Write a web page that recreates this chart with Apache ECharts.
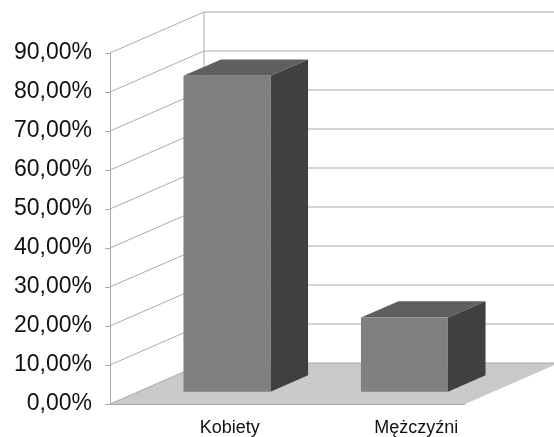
<!DOCTYPE html>
<html>
<head>
<meta charset="utf-8">
<script src="https://cdn.jsdelivr.net/npm/echarts@6/dist/echarts.min.js"></script>
<style>
  html, body { margin: 0; padding: 0; background: #fff; }
  #chart { width: 554px; height: 437px; }
</style>
</head>
<body>
<div id="chart"></div>
<script>
// data
const categories = ['Kobiety', 'Mężczyźni']
const shares = [81, 19]
const yTicks = [0, 10, 20, 30, 40, 50, 60, 70, 80, 90]

// fake 3d depth, pixels
const DX = 94
const DY = 41
const Z0 = 0.3
const Z1 = 0.7

function shift(x, y, z) {
  return [x + z * DX, y - z * DY]
}

function renderWalls(params, api) {
  const cs = params.coordSys
  const v = api.value(1)
  const y = api.coord([0, v])[1]
  const left = cs.x
  const right = cs.x + cs.width
  const children = []
  if (v === 0) {
    children.push({
      type: 'polygon',
      shape: { points: [[left, y], [right, y], shift(right, y, 1), shift(left, y, 1)] },
      style: { fill: '#c9c9c9' }
    })
    const yTop = api.coord([0, yTicks[yTicks.length - 1]])[1]
    children.push({
      type: 'line',
      shape: { x1: left + DX, y1: yTop - DY, x2: left + DX, y2: y - DY },
      style: { stroke: '#aaaaaa', lineWidth: 1 }
    })
  }
  children.push({
    type: 'polyline',
    shape: { points: [[left, y], shift(left, y, 1), [right + DX + 10, y - DY]] },
    style: { stroke: '#aaaaaa', lineWidth: 1, fill: null }
  })
  return { type: 'group', children: children }
}

function renderBar(params, api) {
  const idx = api.value(0)
  const base = api.coord([idx, 0])
  const top = api.coord([idx, api.value(1)])
  const bw = api.size([1, 0])[0] * 0.49
  const L = base[0] - bw / 2
  const R = base[0] + bw / 2
  const B = base[1]
  const T = top[1]
  return {
    type: 'group',
    children: [
      {
        type: 'polygon',
        shape: { points: [shift(R, B, Z0), shift(R, B, Z1), shift(R, T, Z1), shift(R, T, Z0)] },
        style: { fill: '#404040' }
      },
      {
        type: 'polygon',
        shape: { points: [shift(L, T, Z0), shift(R, T, Z0), shift(R, T, Z1), shift(L, T, Z1)] },
        style: { fill: '#5f5f5f' }
      },
      {
        type: 'polygon',
        shape: { points: [shift(L, B, Z0), shift(R, B, Z0), shift(R, T, Z0), shift(L, T, Z0)] },
        style: { fill: '#808080' }
      }
    ]
  }
}

function initChart() {
  const chart = echarts.init(document.getElementById('chart'))
  setOptions(chart)
}

function setOptions(chart) {
  chart.setOption({
    animation: false,
    grid: {
      left: 110,
      right: 89,
      top: 53,
      bottom: 33
    },
    xAxis: {
      type: 'category',
      data: [
        { value: categories[0], textStyle: { padding: [0, 0, 0, 62] } },
        { value: categories[1], textStyle: { padding: [0, 0, 0, 80] } }
      ],
      axisLine: { lineStyle: { color: '#aaaaaa' } },
      axisTick: { length: 5, lineStyle: { color: '#aaaaaa' } },
      axisLabel: {
        margin: 15,
        color: '#111',
        fontSize: 18,
        fontFamily: 'Liberation Sans'
      },
      splitLine: { show: false }
    },
    yAxis: {
      type: 'value',
      min: 0,
      max: 90,
      interval: 10,
      axisLine: { show: true, lineStyle: { color: '#aaaaaa' } },
      axisTick: { show: true, length: 5, lineStyle: { color: '#aaaaaa' } },
      axisLabel: {
        margin: 18,
        color: '#111',
        fontSize: 23,
        fontFamily: 'Liberation Sans',
        formatter: function (v) {
          return v.toFixed(2).replace('.', ',') + '%'
        }
      },
      splitLine: { show: false }
    },
    series: [
      {
        type: 'custom',
        name: 'walls',
        z: 1,
        silent: true,
        renderItem: renderWalls,
        data: yTicks.map(function (v) { return [0, v] })
      },
      {
        type: 'custom',
        name: 'shares',
        z: 5,
        renderItem: renderBar,
        data: shares.map(function (v, i) { return [i, v] })
      }
    ]
  })
}

initChart()
</script>
</body>
</html>
